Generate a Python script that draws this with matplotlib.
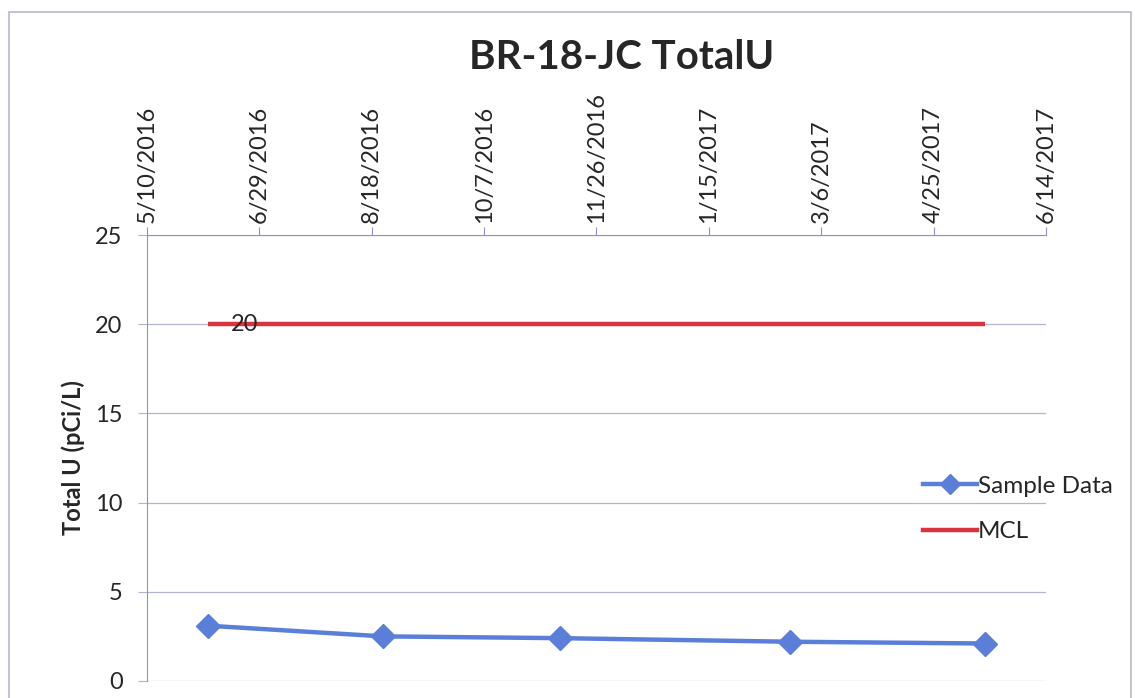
"""BR-18-JC total uranium vs. MCL, dates on a top axis."""

import datetime as dt

import matplotlib
matplotlib.use("Agg")
import matplotlib.dates as mdates
import matplotlib.pyplot as plt
from matplotlib.lines import Line2D

sample_dates = ["2016-06-06", "2016-08-23", "2016-11-10", "2017-02-20", "2017-05-18"]
sample_values = [3.1, 2.5, 2.4, 2.2, 2.1]
mcl_values = [20, 20, 20, 20, 20]

tick_dates = ["2016-05-10", "2016-06-29", "2016-08-18", "2016-10-07", "2016-11-26",
              "2017-01-15", "2017-03-06", "2017-04-25", "2017-06-14"]
tick_labels = ["5/10/2016", "6/29/2016", "8/18/2016", "10/7/2016", "11/26/2016",
               "1/15/2017", "3/6/2017", "4/25/2017", "6/14/2017"]
y_ticks = [0, 5, 10, 15, 20, 25]

BLUE = "#5b7fd9"
RED = "#d9333f"
AXIS = "#8e93c4"
GRID = "#b4b4cc"
TEXT = "#262626"

plt.rcParams["font.family"] = ["Lato", "DejaVu Sans"]


def to_dates(values):
    return [dt.datetime.strptime(v, "%Y-%m-%d") for v in values]


def main():
    fig = plt.figure(figsize=(11.35, 6.98), dpi=100)
    ax = fig.add_axes([0.1295, 0.0244, 0.792, 0.6389])

    x = to_dates(sample_dates)
    ticks = to_dates(tick_dates)

    ax.plot(x, mcl_values, color=RED, linewidth=3.2, solid_capstyle="butt", zorder=3)
    ax.plot(x, sample_values, color=BLUE, linewidth=3.2, marker="D", markersize=12.5,
            markerfacecolor=BLUE, markeredgecolor=BLUE, zorder=4)
    ax.annotate(f"{mcl_values[0]:g}", (x[0], mcl_values[0]), xytext=(17, 0),
                textcoords="offset points", ha="left", va="center",
                fontsize=17, color=TEXT, zorder=5)

    ax.set_xlim(ticks[0], ticks[-1])
    ax.set_ylim(0, 25)
    ax.set_yticks(y_ticks)
    ax.yaxis.grid(True, color=GRID, linewidth=0.9)
    ax.set_axisbelow(True)

    ax.xaxis.tick_top()
    ax.set_xticks(mdates.date2num(ticks))
    ax.set_xticklabels(tick_labels, rotation=90, fontsize=17, color=TEXT)
    ax.tick_params(axis="x", which="both", top=True, bottom=False, direction="out",
                   length=6, color=AXIS, pad=3)
    ax.tick_params(axis="y", direction="out", length=6.5, color=GRID, labelsize=17,
                   labelcolor=TEXT, pad=11)

    for side in ("right", "bottom"):
        ax.spines[side].set_visible(False)
    ax.spines["top"].set_color(AXIS)
    ax.spines["left"].set_color(AXIS)

    ax.set_ylabel("Total U (pCi/L)", fontsize=17, fontweight="bold", color=TEXT, labelpad=7)
    fig.text(0.548, 0.918, "BR-18-JC TotalU", ha="center", va="center",
             fontsize=29, fontweight="bold", color=TEXT)

    handles = [
        Line2D([], [], color=BLUE, linewidth=3.2, marker="D", markersize=10),
        Line2D([], [], color=RED, linewidth=3.2),
    ]
    fig.legend(handles, ["Sample Data", "MCL"], loc="center left",
               bbox_to_anchor=(0.794, 0.271), frameon=False, fontsize=17.5,
               handlelength=2.2, handletextpad=0.05, labelspacing=1.0,
               labelcolor=TEXT)

    border = plt.Rectangle((9 / 1135, -0.05), 1122 / 1135, 1.05 - 12 / 698,
                           transform=fig.transFigure, fill=False,
                           edgecolor="#b8b8c8", linewidth=1.2)
    fig.patches.append(border)

    fig.savefig("out.png", dpi=100)
    plt.close(fig)


if __name__ == "__main__":
    main()
